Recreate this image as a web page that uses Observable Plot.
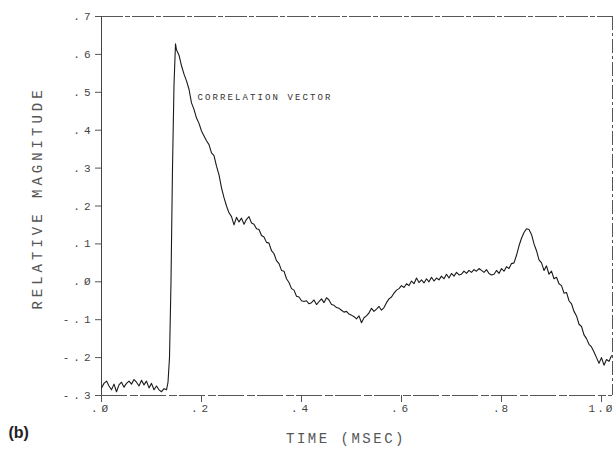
<!DOCTYPE html>
<html>
<head>
<meta charset="utf-8">
<script src="https://cdn.jsdelivr.net/npm/d3@7"></script>
<script src="https://cdn.jsdelivr.net/npm/@observablehq/plot@0.6"></script>
<style>
  html, body { margin: 0; padding: 0; background: #fff; }
  #chart svg { display: block; }
</style>
</head>
<body>
<div id="chart"></div>
<script>
// ---- data ----
const times = [
  0.000,0.005,0.010,0.015,0.020,0.025,0.030,0.035,0.040,0.045,
  0.050,0.055,0.060,0.065,0.070,0.075,0.080,0.085,0.090,0.095,
  0.100,0.105,0.110,0.115,0.120,0.125,0.130,0.133,0.136,0.139,
  0.142,0.145,0.148,0.150,0.155,0.160,0.165,0.170,0.175,0.180,
  0.185,0.190,0.195,0.200,0.205,0.210,0.215,0.220,0.225,0.230,
  0.235,0.240,0.245,0.250,0.255,0.260,0.265,0.270,0.275,0.280,
  0.285,0.290,0.295,0.300,0.305,0.310,0.315,0.320,0.325,0.330,
  0.335,0.340,0.345,0.350,0.355,0.360,0.365,0.370,0.375,0.380,
  0.385,0.390,0.395,0.400,0.405,0.410,0.415,0.420,0.425,0.430,
  0.435,0.440,0.445,0.450,0.455,0.460,0.465,0.470,0.475,0.480,
  0.485,0.490,0.495,0.500,0.505,0.510,0.515,0.520,0.525,0.530,
  0.535,0.540,0.545,0.550,0.555,0.560,0.565,0.570,0.575,0.580,
  0.585,0.590,0.595,0.600,0.605,0.610,0.615,0.620,0.625,0.630,
  0.635,0.640,0.645,0.650,0.655,0.660,0.665,0.670,0.675,0.680,
  0.685,0.690,0.695,0.700,0.705,0.710,0.715,0.720,0.725,0.730,
  0.735,0.740,0.745,0.750,0.755,0.760,0.765,0.770,0.775,0.780,
  0.785,0.790,0.795,0.800,0.805,0.810,0.815,0.820,0.825,0.830,
  0.835,0.840,0.845,0.850,0.855,0.860,0.865,0.870,0.875,0.880,
  0.885,0.890,0.895,0.900,0.905,0.910,0.915,0.920,0.925,0.930,
  0.935,0.940,0.945,0.950,0.955,0.960,0.965,0.970,0.975,0.980,
  0.985,0.990,0.995,1.000,1.005,1.010,1.015,1.020
];
const magnitudes = [
  -0.280,-0.268,-0.262,-0.275,-0.285,-0.270,-0.290,-0.272,-0.265,-0.278,
  -0.268,-0.262,-0.270,-0.258,-0.265,-0.275,-0.260,-0.272,-0.262,-0.280,
  -0.268,-0.285,-0.275,-0.285,-0.290,-0.282,-0.285,-0.265,-0.200,0.000,
  0.300,0.520,0.628,0.612,0.598,0.570,0.548,0.530,0.508,0.472,
  0.455,0.432,0.418,0.398,0.385,0.372,0.362,0.340,0.333,0.305,
  0.282,0.248,0.222,0.200,0.182,0.172,0.150,0.170,0.158,0.168,
  0.152,0.165,0.172,0.155,0.152,0.140,0.138,0.122,0.118,0.104,
  0.102,0.082,0.074,0.056,0.048,0.030,0.028,0.008,-0.002,-0.018,
  -0.022,-0.038,-0.040,-0.050,-0.052,-0.050,-0.058,-0.055,-0.048,-0.060,
  -0.052,-0.045,-0.055,-0.042,-0.048,-0.060,-0.062,-0.068,-0.070,-0.075,
  -0.080,-0.078,-0.085,-0.088,-0.092,-0.098,-0.090,-0.108,-0.095,-0.090,
  -0.082,-0.070,-0.078,-0.072,-0.065,-0.075,-0.068,-0.055,-0.045,-0.040,
  -0.030,-0.022,-0.018,-0.010,-0.015,-0.005,-0.010,0.002,-0.005,0.010,
  -0.002,0.005,-0.003,0.008,0.000,0.012,0.002,0.010,0.005,0.015,
  0.008,0.020,0.010,0.022,0.015,0.025,0.018,0.020,0.028,0.022,
  0.030,0.025,0.032,0.028,0.035,0.030,0.025,0.032,0.022,0.018,
  0.020,0.030,0.022,0.035,0.028,0.040,0.035,0.048,0.050,0.070,
  0.095,0.115,0.130,0.140,0.138,0.125,0.100,0.082,0.058,0.050,
  0.030,0.042,0.020,0.028,0.008,0.012,-0.005,-0.010,-0.030,-0.028,
  -0.050,-0.058,-0.078,-0.090,-0.112,-0.118,-0.140,-0.150,-0.165,-0.172,
  -0.185,-0.200,-0.215,-0.200,-0.220,-0.205,-0.210,-0.195
];
const xTicks = [0, 0.2, 0.4, 0.6, 0.8, 1.0];
const xTickLabels = [".Ø", ".2", ".4", ".6", ".8", "1.Ø"];
const yTicks = [0.7, 0.6, 0.5, 0.4, 0.3, 0.2, 0.1, 0.0, -0.1, -0.2, -0.3];
const yTickLabels = [".7", ".6", ".5", ".4", ".3", ".2", ".1", ".Ø", "-.1", "-.2", "-.3"];
const xLabel = "TIME (MSEC)";
const yLabel = "RELATIVE MAGNITUDE";
const panelLabel = "(b)";
const seriesLabel = "CORRELATION VECTOR";
const seriesLabelAt = { time: 0.192, magnitude: 0.487 };
const xDomain = [0, 1.022];
const yDomain = [-0.3, 0.7];

// ---- build ----
const data = times.map((t, i) => ({ time: t, magnitude: magnitudes[i] }));
const mono = "'Liberation Mono', 'DejaVu Sans Mono', monospace";

const chart = Plot.plot({
  width: 614,
  height: 457,
  marginLeft: 101,
  marginRight: 2,
  marginTop: 16,
  marginBottom: 62,
  x: { domain: xDomain },
  y: { domain: yDomain },
  style: { fontFamily: mono, color: "#444", background: "#fff" },
  marks: [
    Plot.ruleY([yDomain[1]], { stroke: "#555", strokeWidth: 1, strokeDasharray: "22,2,5,2" }),
    Plot.ruleY([yDomain[0]], { stroke: "#555", strokeWidth: 1, strokeDasharray: "26,3,8,2" }),
    Plot.ruleX([xDomain[1]], { stroke: "#555", strokeWidth: 1, strokeDasharray: "14,3,3,3" }),
    Plot.ruleX([xDomain[0]], { stroke: "#444", strokeWidth: 1 }),
    Plot.axisX(xTicks, {
      tickFormat: d => xTickLabels[xTicks.indexOf(d)],
      tickSize: 7, tickPadding: 2, fontSize: 11, label: null, stroke: "#555"
    }),
    Plot.axisY(yTicks, {
      tickFormat: d => yTickLabels[yTicks.indexOf(d)],
      tickSize: 6, tickPadding: 1, fontSize: 11, label: null, stroke: "#555"
    }),
    Plot.line(data, { x: "time", y: "magnitude", stroke: "#1a1a1a", strokeWidth: 1.1 }),
    Plot.text([seriesLabel], {
      x: seriesLabelAt.time, y: seriesLabelAt.magnitude, text: d => d,
      textAnchor: "start", fontSize: 9, fill: "#333"
    }),
    Plot.text([yLabel], {
      frameAnchor: "left", text: d => d, rotate: -90, textAnchor: "middle", dx: -64, dy: -8,
      fontSize: 14, fill: "#555"
    }),
    Plot.text([xLabel], {
      frameAnchor: "bottom", text: d => d, textAnchor: "middle", dx: -11, dy: 47,
      fontSize: 14, fill: "#555"
    }),
    Plot.text([panelLabel], {
      frameAnchor: "bottom-left", text: d => d, textAnchor: "start", dx: -93, dy: 42,
      fontSize: 16, fontWeight: "bold", fontFamily: "'Liberation Sans', Arial, sans-serif",
      fill: "#222"
    })
  ]
});

// letter spacing like the plotter lettering
const spacing = new Map([[yLabel, "4px"], [xLabel, "2.5px"], [seriesLabel, "2.1px"]]);
d3.select(chart).selectAll("text").each(function () {
  const t = this.textContent;
  if (spacing.has(t)) this.style.letterSpacing = spacing.get(t);
  else if (yTickLabels.includes(t)) this.style.letterSpacing = "4px";
  else if (xTickLabels.includes(t)) this.style.letterSpacing = "2px";
});
document.getElementById("chart").appendChild(chart);
</script>
</body>
</html>
